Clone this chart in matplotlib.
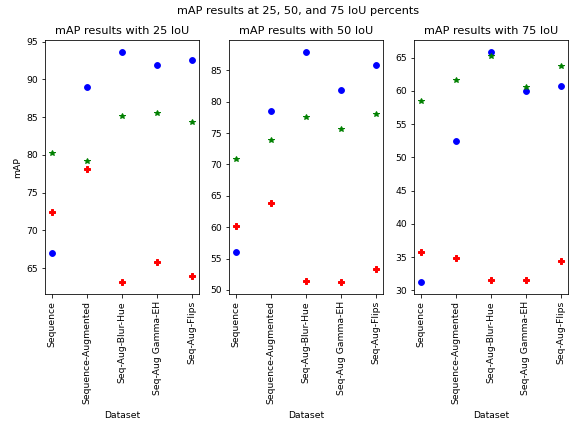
import numpy as np
import matplotlib.pyplot as plt

datasets = ["Sequence", "Sequence-Augmented", "Seq-Aug-Blur-Hue",
            "Seq-Aug Gamma-EH", "Seq-Aug-Flips"]

# blue dots, red pluses, green stars for each IoU threshold
blue_25 = [67.0, 89.0, 93.7, 91.9, 92.6]
red_25 = [72.5, 78.1, 63.1, 65.8, 63.9]
green_25 = [80.3, 79.2, 85.2, 85.5, 84.4]

blue_50 = [56.1, 78.6, 88.0, 81.9, 85.9]
red_50 = [60.2, 63.8, 51.4, 51.2, 53.4]
green_50 = [70.8, 73.9, 77.6, 75.6, 78.1]

blue_75 = [31.2, 52.4, 65.9, 59.9, 60.7]
red_75 = [35.8, 34.8, 31.6, 31.6, 34.4]
green_75 = [58.5, 61.6, 65.3, 60.5, 63.7]

panels = [("mAP results with 25 IoU", blue_25, red_25, green_25),
          ("mAP results with 50 IoU", blue_50, red_50, green_50),
          ("mAP results with 75 IoU", blue_75, red_75, green_75)]

plt.rcParams['font.size'] = 9.3
plt.rcParams['axes.titlesize'] = 11.2
plt.rcParams['figure.titlesize'] = 11.2

fig = plt.figure(figsize=(570 / 72, 423 / 72), dpi=72)
fig.suptitle("mAP results at 25, 50, and 75 IoU percents", x=0.523, y=0.985)

lefts = [45, 229, 414]
x = np.arange(len(datasets))
for i, (title, b, r, g) in enumerate(panels):
    ax = fig.add_axes([lefts[i] / 570, 129 / 423, 154 / 570, 254 / 423])
    ax.plot(x, b, 'bo', ms=5.8)
    ax.plot(x, r, 'rP', ms=5.8)
    ax.plot(x, g, 'g*', ms=5.8)
    ax.set_title(title)
    ax.set_xticks(x)
    ax.set_xticklabels(datasets, rotation=90)
    ax.set_xlabel("Dataset", labelpad=7)
    if i == 0:
        ax.set_ylabel("mAP")

fig.savefig("out.png", dpi=72)
